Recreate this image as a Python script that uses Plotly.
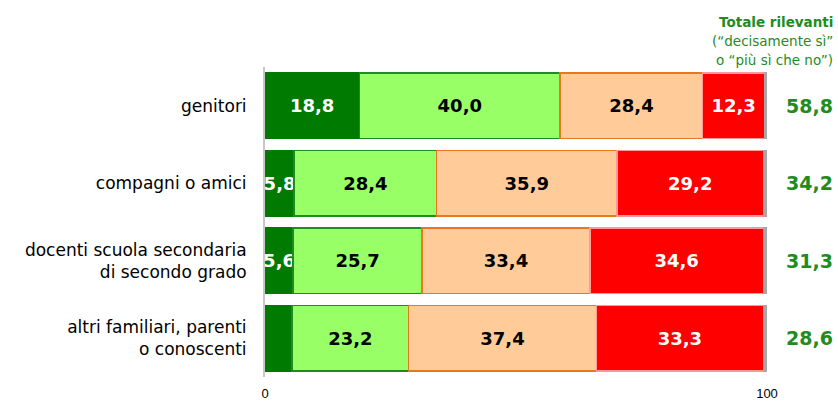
import plotly.graph_objects as go

categorie = ["genitori", "compagni o amici", "docenti scuola secondaria<br>di secondo grado",
             "altri familiari, parenti<br>o conoscenti"]
decisamente_si = [18.8, 5.8, 5.6, 5.4]
piu_si_che_no = [40.0, 28.4, 25.7, 23.2]
piu_no_che_si = [28.4, 35.9, 33.4, 37.4]
decisamente_no = [12.3, 29.2, 34.6, 33.3]
non_risponde = [0.5, 0.7, 0.7, 0.7]
totale_rilevanti = [58.8, 34.2, 31.3, 28.6]

FONT = "DejaVu Sans"


def fmt(v):
    return f"{v:.1f}".replace(".", ",")


serie = [
    # valori, colore, bordo, colore testo
    (decisamente_si, "#007A00", "#007A00", "white"),
    (piu_si_che_no, "#99FF66", "#1E8C1E", "black"),
    (piu_no_che_si, "#FFCC99", "#E8781E", "black"),
    (decisamente_no, "#FF0000", "#FF9999", "white"),
    (non_risponde, "#A6A6A6", "#A6A6A6", "white"),
]

fig = go.Figure()
for i, (vals, col, bordo, tcol) in enumerate(serie):
    if i == 4:
        testi = ["" for v in vals]
    else:
        testi = [fmt(v) if v >= 5.5 else "" for v in vals]
    fig.add_trace(go.Bar(
        y=categorie, x=vals, orientation="h",
        marker=dict(color=col, line=dict(color=bordo, width=1.5)),
        text=testi, textposition="inside", insidetextanchor="middle",
        constraintext="none", textangle=0,
        textfont=dict(family=FONT, size=18, color=tcol, weight="bold"),
        hoverinfo="skip", showlegend=False,
    ))

ann = []
for c, t in zip(categorie, totale_rilevanti):
    ann.append(dict(x=1.1355, xref="paper", y=c, yref="y", xanchor="right",
                    text="<b>" + fmt(t) + "</b>", showarrow=False,
                    font=dict(family=FONT, size=19, color="#1E8C1E")))
intest = [("<b>Totale rilevanti</b>", 22, 13.5), ("(“decisamente sì”", 41, 13.5),
          ("o “più sì che no”)", 60, 13.5)]
for testo, ypx, sz in intest:
    ann.append(dict(x=1.1355, xref="paper", y=1 + (67 - ypx) / 310, yref="paper",
                    xanchor="right", yanchor="middle",
                    text=testo, showarrow=False,
                    font=dict(family=FONT, size=sz, color="#1E8C1E")))

fig.update_layout(
    width=838, height=401,
    margin=dict(l=265, r=71, t=67, b=24),
    barmode="stack", bargap=0.15,
    plot_bgcolor="white", paper_bgcolor="white",
    annotations=ann,
    xaxis=dict(range=[0, 100], tickvals=[0, 100], showgrid=False, zeroline=False,
               automargin=False,
               ticks="outside", ticklen=4, tickcolor="rgba(0,0,0,0)",
               tickfont=dict(family="Liberation Sans", size=13, color="black")),
    yaxis=dict(autorange="reversed", showline=True, linecolor="#C8C8C8", linewidth=2,
               showgrid=False, ticklabelstandoff=13,
               tickfont=dict(family=FONT, size=17, color="black")),
)

fig.write_html("out.html", config={"displayModeBar": False},
               post_script="document.body.style.margin='0px';")
